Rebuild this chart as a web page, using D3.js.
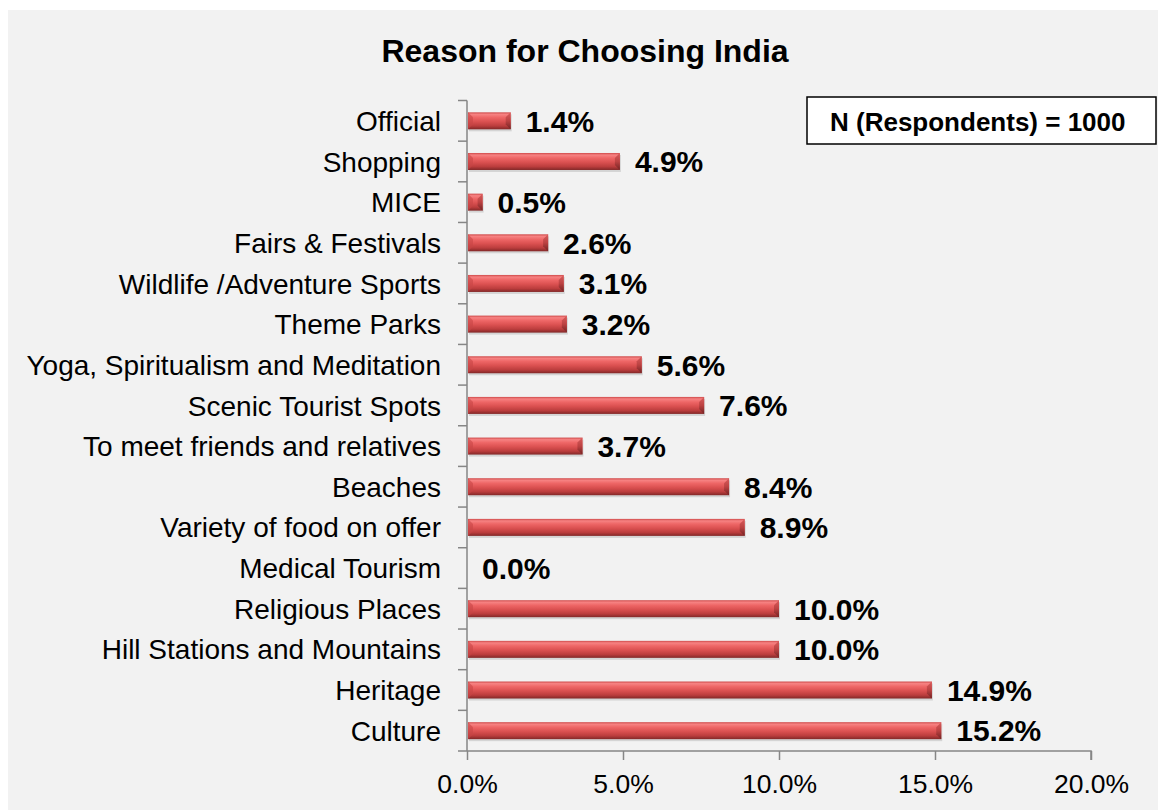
<!DOCTYPE html>
<html>
<head>
<meta charset="utf-8">
<script src="https://cdn.jsdelivr.net/npm/d3@7"></script>
<style>
  html, body { margin: 0; padding: 0; background: #ffffff; }
  svg { display: block; font-family: "Liberation Sans", Arial, sans-serif; }
</style>
</head>
<body>
<svg id="chart" width="1158" height="810"></svg>
<script>
// Reasons for choosing India, share of respondents (%)
const categories = [
  "Official",
  "Shopping",
  "MICE",
  "Fairs & Festivals",
  "Wildlife /Adventure Sports",
  "Theme Parks",
  "Yoga, Spiritualism and Meditation",
  "Scenic Tourist Spots",
  "To meet friends and relatives",
  "Beaches",
  "Variety of food on offer",
  "Medical Tourism",
  "Religious Places",
  "Hill Stations and Mountains",
  "Heritage",
  "Culture"
];
const values = [1.4, 4.9, 0.5, 2.6, 3.1, 3.2, 5.6, 7.6, 3.7, 8.4, 8.9, 0.0, 10.0, 10.0, 14.9, 15.2];
const xTicks = [0, 5, 10, 15, 20];
const chartTitle = "Reason for Choosing India";
const noteText = "N (Respondents) = 1000";

const svg = d3.select("#chart");
const W = 1158, H = 810;

// chart area background
svg.append("rect")
  .attr("x", 8).attr("y", 10)
  .attr("width", W - 8).attr("height", H - 10)
  .attr("fill", "#f2f2f2");

const plot = { left: 467, right: 1091, top: 100.5, bottom: 751 };

const x = d3.scaleLinear().domain([0, 20]).range([plot.left, plot.right]);
const y = d3.scaleBand().domain(categories).range([plot.top, plot.bottom]).paddingInner(0).paddingOuter(0);

// bar shading: lighter top edge, red body, dark underside
const defs = svg.append("defs");
const grad = defs.append("linearGradient")
  .attr("id", "barGrad").attr("x1", 0).attr("y1", 0).attr("x2", 0).attr("y2", 1);
[
  [0, "#cf4a4a"], [0.12, "#f68282"], [0.3, "#ee6666"], [0.55, "#da5050"],
  [0.8, "#bb3d3d"], [1, "#822828"]
].forEach(([o, c]) => grad.append("stop").attr("offset", o).attr("stop-color", c));

const capGrad = defs.append("linearGradient")
  .attr("id", "capGrad").attr("x1", 0).attr("y1", 0).attr("x2", 0).attr("y2", 1);
[
  [0, "#d85c5c"], [0.5, "#bc4242"], [1, "#722222"]
].forEach(([o, c]) => capGrad.append("stop").attr("offset", o).attr("stop-color", c));

const barH = 17;
const bevel = 5;

const rows = categories.map((c, i) => ({ c, v: values[i] }));

const bars = svg.append("g").selectAll("g.bar")
  .data(rows)
  .join("g").attr("class", "bar");

bars.filter(d => d.v > 0).each(function (d) {
  const g = d3.select(this);
  const x0 = x(0) + 1, x1 = x(d.v);
  const yc = y(d.c) + y.bandwidth() / 2;
  const y0 = yc - barH / 2;
  const w = Math.max(x1 - x0, 1);
  // soft shadow under the bar
  g.append("rect")
    .attr("x", x0 + 1).attr("y", y0 + 2)
    .attr("width", w).attr("height", barH)
    .attr("fill", "#000").attr("opacity", 0.12);
  g.append("rect")
    .attr("x", x0).attr("y", y0)
    .attr("width", w).attr("height", barH)
    .attr("fill", "url(#barGrad)");
  // bevelled right end
  const b = Math.min(bevel, w / 2);
  g.append("path")
    .attr("d", `M${x1 - b},${y0 + b} L${x1},${y0} L${x1},${y0 + barH} L${x1 - b},${y0 + barH - b} Z`)
    .attr("fill", "url(#capGrad)");
  // bevelled left end
  g.append("path")
    .attr("d", `M${x0},${y0} L${x0 + b},${y0 + b} L${x0 + b},${y0 + barH - b} L${x0},${y0 + barH} Z`)
    .attr("fill", "#c84646").attr("opacity", 0.6);
});

// value labels
svg.append("g").selectAll("text")
  .data(rows)
  .join("text")
  .attr("x", d => x(d.v) + 15)
  .attr("y", d => y(d.c) + y.bandwidth() / 2)
  .attr("dy", "0.36em")
  .attr("font-size", 30)
  .attr("font-weight", "bold")
  .attr("fill", "#000")
  .text(d => d.v.toFixed(1) + "%");

// y axis
const axisColor = "#868686";
const yAxisG = svg.append("g");
yAxisG.append("line")
  .attr("x1", plot.left).attr("x2", plot.left)
  .attr("y1", plot.top).attr("y2", plot.bottom)
  .attr("stroke", axisColor).attr("stroke-width", 1.5);
const bounds = categories.map(c => y(c)).concat([plot.bottom]);
yAxisG.selectAll("line.tick")
  .data(bounds)
  .join("line").attr("class", "tick")
  .attr("x1", plot.left - 9).attr("x2", plot.left)
  .attr("y1", d => d).attr("y2", d => d)
  .attr("stroke", axisColor).attr("stroke-width", 1.5);
yAxisG.selectAll("text")
  .data(categories)
  .join("text")
  .attr("x", plot.left - 26)
  .attr("y", d => y(d) + y.bandwidth() / 2)
  .attr("dy", "0.36em")
  .attr("text-anchor", "end")
  .attr("font-size", 28)
  .attr("fill", "#000")
  .text(d => d);

// x axis
const xAxis = d3.axisBottom(x)
  .tickValues(xTicks)
  .tickSize(9)
  .tickPadding(14)
  .tickFormat(d => d.toFixed(1) + "%");
const xAxisG = svg.append("g")
  .attr("transform", `translate(0,${plot.bottom})`)
  .call(xAxis);
xAxisG.select(".domain").attr("stroke", axisColor).attr("stroke-width", 1.5)
  .attr("d", `M${plot.left},0H${plot.right}V9`);
xAxisG.selectAll(".tick line").attr("stroke", axisColor).attr("stroke-width", 1.5);
xAxisG.selectAll(".tick text")
  .attr("font-size", 26.5)
  .attr("font-family", "Liberation Sans, Arial, sans-serif")
  .attr("fill", "#000");

// title
svg.append("text")
  .attr("x", 585).attr("y", 62)
  .attr("text-anchor", "middle")
  .attr("font-size", 32)
  .attr("font-weight", "bold")
  .attr("fill", "#000")
  .text(chartTitle);

// respondents note
const note = svg.append("g");
note.append("rect")
  .attr("x", 807).attr("y", 97)
  .attr("width", 349).attr("height", 47)
  .attr("fill", "#ffffff")
  .attr("stroke", "#000").attr("stroke-width", 1.5);
note.append("text")
  .attr("x", 830).attr("y", 131)
  .attr("font-size", 26)
  .attr("font-weight", "bold")
  .attr("fill", "#000")
  .text(noteText);
</script>
</body>
</html>
